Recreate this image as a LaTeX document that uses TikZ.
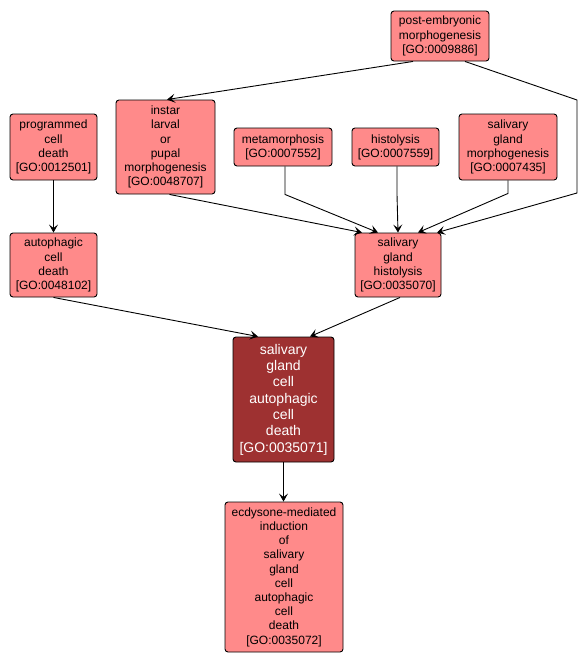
\documentclass[tikz,border=0pt]{standalone}
\usepackage{fontspec}
\setmainfont{Liberation Sans}
\usepackage{tikz}
\usetikzlibrary{arrows.meta}
\definecolor{golight}{HTML}{FF8A8A}
\definecolor{godark}{HTML}{9E3131}

\begin{document}
\begin{tikzpicture}[x=1pt, y=-1pt, line width=0.9pt]
  \tikzstyle{term}=[draw, rounded corners=3pt, fill=golight, align=center, inner sep=0pt,
    font=\fontsize{12}{14.2}\selectfont]
  \tikzstyle{focus}=[term, fill=godark, text=white, font=\fontsize{14}{16.3}\selectfont]
  \tikzstyle{edge}=[-{Stealth[length=8pt, width=9pt, inset=3.5pt]}]
  \useasboundingbox (0,0) rectangle (588,664);
  \node[term, minimum width=98pt, minimum height=50pt] (GO_9886) at (440,36) {post-embryonic\\morphogenesis\\{[GO:0009886]}};
  \node[term, minimum width=99pt, minimum height=94pt] (GO_48707) at (165.5,147) {instar\\larval\\or\\pupal\\morphogenesis\\{[GO:0048707]}};
  \node[term, minimum width=87pt, minimum height=66pt] (GO_12501) at (53.5,147) {programmed\\cell\\death\\{[GO:0012501]}};
  \node[term, minimum width=98pt, minimum height=38pt] (GO_7552) at (283,147) {metamorphosis\\{[GO:0007552]}};
  \node[term, minimum width=87pt, minimum height=38pt] (GO_7559) at (395.5,147) {histolysis\\{[GO:0007559]}};
  \node[term, minimum width=98pt, minimum height=66pt] (GO_7435) at (508,147) {salivary\\gland\\morphogenesis\\{[GO:0007435]}};
  \node[term, minimum width=87pt, minimum height=64pt] (GO_48102) at (53.5,265) {autophagic\\cell\\death\\{[GO:0048102]}};
  \node[term, minimum width=86pt, minimum height=64pt] (GO_35070) at (398,265) {salivary\\gland\\histolysis\\{[GO:0035070]}};
  \node[focus, minimum width=101pt, minimum height=125pt] (GO_35071) at (283.5,399.5) {salivary\\gland\\cell\\autophagic\\cell\\death\\{[GO:0035071]}};
  \node[term, minimum width=118pt, minimum height=150pt] (GO_35072) at (284,577) {ecdysone-mediated\\induction\\of\\salivary\\gland\\cell\\autophagic\\cell\\death\\{[GO:0035072]}};
  \coordinate (bend_1) at (577,100);
  \coordinate (bend_2) at (577,193);
  \draw[edge] ([xshift=-27pt]GO_9886.south) -- ([xshift=1.5pt]GO_48707.north);
  \draw[edge] ([xshift=25pt]GO_9886.south) -- (bend_1) -- (bend_2) -- ([xshift=39pt]GO_35070.north);
  \draw[edge] ([xshift=4pt]GO_48707.south) -- ([xshift=-36pt]GO_35070.north);
  \draw[edge] ([xshift=2pt]GO_7552.south) -- +(0,28) -- ([xshift=-20pt]GO_35070.north);
  \draw[edge] ([xshift=1.5pt]GO_7559.south) -- +(0,28) -- (GO_35070.north);
  \draw[edge] (GO_7435.south) -- +(0,13) -- ([xshift=20pt]GO_35070.north);
  \draw[edge] (GO_12501) -- (GO_48102);
  \draw[edge] (GO_48102.south) -- ([xshift=-25.5pt]GO_35071.north);
  \draw[edge] ([xshift=2pt]GO_35070.south) -- ([xshift=26.5pt]GO_35071.north);
  \draw[edge] (GO_35071.south) -- (GO_35071.south |- GO_35072.north);
\end{tikzpicture}
\end{document}
